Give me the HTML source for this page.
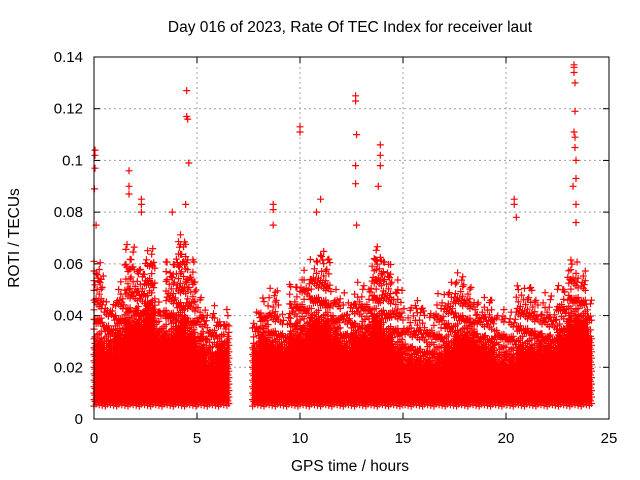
<!DOCTYPE html>
<html><head><meta charset="utf-8"><style>
body{margin:0;background:#fff}
svg{display:block;font-family:"Liberation Sans",sans-serif}
</style></head><body>
<svg id="chart" width="640" height="480">
<text x="350" y="32" font-size="15.5" text-anchor="middle">Day 016 of 2023, Rate Of TEC Index for receiver laut</text>
<text x="350" y="471" font-size="15.5" text-anchor="middle">GPS time / hours</text>
<text transform="translate(19,238) rotate(-90)" font-size="15.5" text-anchor="middle">ROTI / TECUs</text>
<g id="grid"></g><g id="ticks"></g><g id="marks"></g>
<rect x="94" y="57" width="515" height="362" fill="none" stroke="#000" stroke-width="1"/>
</svg>
<script>
const binHours=[0,0.5,1,1.5,2,2.5,3,3.5,4,4.5,5,5.5,6,6.5,7.7,8,8.5,9,9.5,10,10.5,11,11.5,12,12.5,13,13.5,14,14.5,15,15.5,16,16.5,17,17.5,18,18.5,19,19.5,20,20.5,21,21.5,22,22.5,23,23.5,24];
const bandTop=[0.032,0.03,0.035,0.04,0.04,0.045,0.035,0.035,0.04,0.035,0.03,0.025,0.03,0.035,0.03,0.035,0.03,0.03,0.035,0.035,0.04,0.04,0.035,0.03,0.035,0.035,0.04,0.035,0.03,0.025,0.025,0.025,0.025,0.03,0.035,0.035,0.03,0.03,0.025,0.025,0.03,0.03,0.03,0.03,0.035,0.04,0.04,0.035];
const sparseMax=[0.06,0.045,0.05,0.065,0.06,0.065,0.045,0.06,0.07,0.06,0.045,0.04,0.04,0.04,0.04,0.045,0.05,0.04,0.05,0.055,0.06,0.065,0.05,0.045,0.05,0.05,0.065,0.06,0.05,0.04,0.045,0.04,0.045,0.05,0.055,0.05,0.045,0.045,0.04,0.04,0.05,0.05,0.045,0.045,0.05,0.06,0.055,0.045];
const binWidth=[0.5,0.5,0.5,0.5,0.5,0.5,0.5,0.5,0.5,0.5,0.5,0.5,0.5,0.1,0.3,0.5,0.5,0.5,0.5,0.5,0.5,0.5,0.5,0.5,0.5,0.5,0.5,0.5,0.5,0.5,0.5,0.5,0.5,0.5,0.5,0.5,0.5,0.5,0.5,0.5,0.5,0.5,0.5,0.5,0.5,0.5,0.5,0.2];
const spikeTimes=[0.05,0.05,0.05,0.02,0.1,1.7,1.7,1.7,2.3,2.3,2.3,4.5,4.5,4.55,4.6,4.45,3.8,10.0,10.0,12.7,12.7,12.75,12.7,12.7,12.75,13.9,13.9,13.9,13.8,20.4,20.4,20.5,23.3,23.3,23.3,23.35,23.35,23.3,23.35,23.35,23.4,23.25,23.4,23.4,23.4,11.0,10.8,8.7,8.7,8.7];
const spikeValues=[0.104,0.102,0.097,0.089,0.075,0.096,0.09,0.087,0.085,0.083,0.08,0.127,0.117,0.116,0.099,0.083,0.08,0.113,0.111,0.125,0.123,0.11,0.098,0.091,0.075,0.106,0.102,0.098,0.09,0.085,0.083,0.078,0.137,0.136,0.134,0.13,0.119,0.111,0.109,0.105,0.1,0.09,0.093,0.083,0.076,0.085,0.08,0.083,0.081,0.075];
const xTicks=[0,5,10,15,20,25];
const yTicks=[0,0.02,0.04,0.06,0.08,0.1,0.12,0.14];
const yTickLabels=["0","0.02","0.04","0.06","0.08","0.1","0.12","0.14"];
const X0=94,X1=609,Y0=419,Y1=57;
const xs=h=>X0+(h/25)*(X1-X0);
const ys=v=>Y0-(v/0.14)*(Y0-Y1);
const NS="http://www.w3.org/2000/svg";
const grid=document.getElementById('grid'),ticks=document.getElementById('ticks'),marks=document.getElementById('marks');
function mk(tag,attrs,parent){const e=document.createElementNS(NS,tag);for(const k in attrs)e.setAttribute(k,attrs[k]);parent.appendChild(e);return e;}
xTicks.forEach((t,i)=>{const x=xs(t);
 if(i>0&&i<xTicks.length-1){const g=mk('line',{x1:x,x2:x,y1:Y0,y2:Y1,stroke:'#a0a0a0','stroke-dasharray':'2,3'},grid);
 
 }
 mk('line',{x1:x,x2:x,y1:Y0,y2:Y0-6,stroke:'#000'},ticks);mk('line',{x1:x,x2:x,y1:Y1,y2:Y1+6,stroke:'#000'},ticks);
 const l=mk('text',{x:x,y:443,'font-size':15,'text-anchor':'middle'},ticks);l.textContent=t;
 
 });
yTicks.forEach((t,i)=>{const y=ys(t);
 if(i>0&&i<yTicks.length-1){const g=mk('line',{x1:X0,x2:X1,y1:y,y2:y,stroke:'#a0a0a0','stroke-dasharray':'2,3'},grid);
 
 }
 mk('line',{x1:X0,x2:X0+6,y1:y,y2:y,stroke:'#000'},ticks);mk('line',{x1:X1,x2:X1-6,y1:y,y2:y,stroke:'#000'},ticks);
 const l=mk('text',{x:83,y:y+5,'font-size':15,'text-anchor':'end'},ticks);l.textContent=yTickLabels[i];
 
 });
let d='';
function plus(h,v){const x=xs(h),y=ys(v);d+=`M${(x-3.5).toFixed(1)} ${y.toFixed(1)}h7M${x.toFixed(1)} ${(y-3.5).toFixed(1)}v7`;}
let col=0;
binHours.forEach((h,i)=>{
 const w=binWidth[i];
 for(let k=0;k*0.05<w-1e-6;k++,col++){const t=h+k*0.05;
  const off=((col*7)%11)*0.00025;
  const top=bandTop[i]-0.004+((col*5)%9)*0.001;
  for(let v=0.005+off;v<=top;v+=0.0025)plus(t,v);
  const step=0.003+((col*3)%7)*0.0008;
  for(let v=top+step;v<=sparseMax[i]+0.004-((col*11)%13)*0.0008;v+=step*1.25)plus(t,v);
 }
});
spikeTimes.forEach((t,i)=>plus(t,spikeValues[i]));
const p=mk('path',{d:d,stroke:'#ff0000','stroke-width':1.2,fill:'none'},marks);


</script>
</body></html>
